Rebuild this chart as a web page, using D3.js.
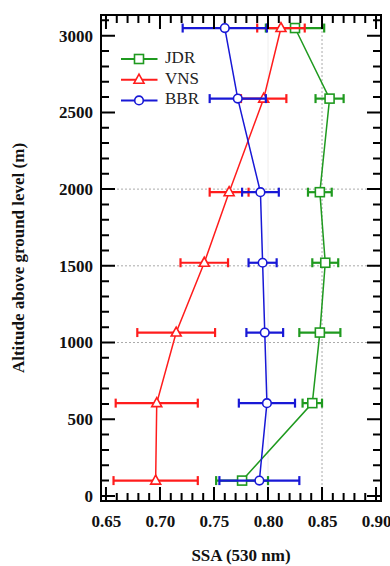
<!DOCTYPE html>
<html>
<head>
<meta charset="utf-8">
<script src="https://cdn.jsdelivr.net/npm/d3@7"></script>
<style>
  body { margin: 0; background: #fff; }
  svg { display: block; }
</style>
</head>
<body>
<svg id="chart" width="390" height="566"></svg>
<script>
// altitude of each level (m) -- same for the three instruments
var altitudes = [3050, 2590, 1980, 1520, 1065, 605, 100];

var jdrSSA = [0.825, 0.857, 0.848, 0.853, 0.848, 0.841, 0.776];
var jdrErr = [0.027, 0.013, 0.011, 0.012, 0.019, 0.009, 0.024];

var vnsSSA = [0.812, 0.796, 0.764, 0.741, 0.715, 0.697, 0.696];
var vnsErr = [0.022, 0.021, 0.018, 0.022, 0.036, 0.038, 0.039];

var bbrSSA = [0.760, 0.772, 0.793, 0.795, 0.797, 0.799, 0.792];
var bbrErr = [0.039, 0.026, 0.017, 0.013, 0.017, 0.026, 0.037];

var xTicks = [0.65, 0.70, 0.75, 0.80, 0.85, 0.90];
var yTicks = [0, 500, 1000, 1500, 2000, 2500, 3000];

var series = [
  {name: "JDR", ssa: jdrSSA, err: jdrErr, color: "#1f9a1f", symbol: "square"},
  {name: "VNS", ssa: vnsSSA, err: vnsErr, color: "#ff1c1c", symbol: "triangle"},
  {name: "BBR", ssa: bbrSSA, err: bbrErr, color: "#1818d6", symbol: "circle"}
];

var svg = d3.select("svg#chart"),
    margin = {top: 15, left: 101, bottom: 65, right: 9},
    width = 390, height = 566;

var x = d3.scaleLinear()
    .domain([0.6454, 0.9046])
    .range([margin.left, width - margin.right]);

var y = d3.scaleLinear()
    .domain([-33, 3135])
    .range([height - margin.bottom, margin.top]);

var fontTick = "'Liberation Serif', 'Times New Roman', serif";
// plot edges (don't call these top/left: window.top is read-only)
var pL = x.range()[0], pR = x.range()[1], pB = y.range()[0], pT = y.range()[1];

// gridlines (dotted)
var grid = svg.append("g").attr("class", "grid");
grid.selectAll("line.h")
  .data([1000, 1500, 2000])
  .enter().append("line")
    .attr("x1", pL).attr("x2", pR)
    .attr("y1", d => y(d)).attr("y2", d => y(d))
    .attr("stroke", "#aaa").attr("stroke-width", 1)
    .attr("stroke-dasharray", "2,2");
grid.append("line")
    .attr("x1", x(0.85)).attr("x2", x(0.85))
    .attr("y1", pB).attr("y2", pT)
    .attr("stroke", "#aaa").attr("stroke-width", 1)
    .attr("stroke-dasharray", "2,2");
grid.append("line")
    .attr("x1", x(0.80)).attr("x2", x(0.80))
    .attr("y1", pB).attr("y2", pT)
    .attr("stroke", "#eee").attr("stroke-width", 1);

// tick labels from the axis generators
function styleAxis(g) {
  g.select(".domain").remove();
  g.selectAll(".tick line").remove();
  g.selectAll(".tick text")
    .attr("font-family", fontTick)
    .attr("font-weight", "bold")
    .attr("font-size", 17)
    .attr("fill", "#111");
}

svg.append("g")
  .attr("transform", translate(0, pB))
  .call(d3.axisBottom(x).tickValues(xTicks).tickSize(0).tickPadding(14)
    .tickFormat(d3.format(".2f")))
  .call(styleAxis);

svg.append("g")
  .attr("transform", translate(pL, 0))
  .call(d3.axisLeft(y).tickValues(yTicks).tickSize(0).tickPadding(8)
    .tickFormat(d3.format("d")))
  .call(styleAxis);

// axis titles
svg.append("text")
  .attr("x", (pL + pR) / 2)
  .attr("y", 557)
  .attr("text-anchor", "middle")
  .attr("dominant-baseline", "middle")
  .attr("font-family", fontTick).attr("font-weight", "bold").attr("font-size", 17)
  .attr("fill", "#111")
  .text("SSA (530 nm)");

svg.append("text")
  .attr("transform", translate(20, (pB + pT) / 2) + " rotate(-90)")
  .attr("text-anchor", "middle")
  .attr("dominant-baseline", "middle")
  .attr("font-family", fontTick).attr("font-weight", "bold").attr("font-size", 17)
  .attr("fill", "#111")
  .text("Altitude above ground level (m)");

function marker(sel, symbol, color) {
  if (symbol == "square") {
    sel.append("rect").attr("x", -4.5).attr("y", -4.5).attr("width", 9).attr("height", 9);
  } else if (symbol == "triangle") {
    sel.append("path").attr("d", "M0,-5.5L5,3.5L-5,3.5Z");
  } else {
    sel.append("circle").attr("r", 4.3);
  }
  sel.selectAll("rect,path,circle")
    .attr("fill", "#fff").attr("stroke", color).attr("stroke-width", 1.6);
}

var line = d3.line().x(d => x(d.ssa)).y(d => y(d.alt));

series.forEach(function(s) {
  var pts = altitudes.map((a, i) => ({alt: a, ssa: s.ssa[i], err: s.err[i]}));
  var g = svg.append("g").attr("class", "series");

  g.append("path")
    .datum(pts)
    .attr("d", line)
    .attr("fill", "none").attr("stroke", s.color).attr("stroke-width", 1.5);

  var eb = g.selectAll("g.err").data(pts).enter().append("g").attr("class", "err");
  eb.append("line")
    .attr("x1", d => x(d.ssa - d.err)).attr("x2", d => x(d.ssa + d.err))
    .attr("y1", d => y(d.alt)).attr("y2", d => y(d.alt));
  eb.append("line")
    .attr("x1", d => x(d.ssa - d.err)).attr("x2", d => x(d.ssa - d.err))
    .attr("y1", d => y(d.alt) - 4.5).attr("y2", d => y(d.alt) + 4.5);
  eb.append("line")
    .attr("x1", d => x(d.ssa + d.err)).attr("x2", d => x(d.ssa + d.err))
    .attr("y1", d => y(d.alt) - 4.5).attr("y2", d => y(d.alt) + 4.5);
  eb.selectAll("line").attr("stroke", s.color).attr("stroke-width", 2.2);

  g.selectAll("g.mk").data(pts).enter().append("g")
    .attr("class", "mk")
    .attr("transform", d => translate(x(d.ssa), y(d.alt)))
    .each(function() { marker(d3.select(this), s.symbol, s.color); });
});

// legend
var legend = svg.append("g").attr("class", "legend");
series.forEach(function(s, i) {
  var ly = 59 + i * 20.7;
  legend.append("line")
    .attr("x1", 121).attr("x2", 157.5).attr("y1", ly).attr("y2", ly)
    .attr("stroke", s.color).attr("stroke-width", 2);
  marker(legend.append("g").attr("transform", translate(139, ly)), s.symbol, s.color);
  legend.append("text")
    .attr("x", 165).attr("y", ly)
    .attr("dominant-baseline", "middle")
    .attr("font-family", fontTick).attr("font-size", 17)
    .attr("fill", "#222")
    .text(s.name);
});

// frame and inward tick marks, one path, drawn last
var xAll = d3.range(65, 91).map(d => ({v: d / 100, len: d % 5 == 0 ? 14 : 8}));
var yAll = d3.range(0, 3200, 100).map(d => ({v: d, len: d % 500 == 0 ? 14 : 8}));

var p = d3.path();
p.rect(pL, pT, pR - pL, pB - pT);
xAll.forEach(function(t) {
  var px = x(t.v);
  p.moveTo(px, pB); p.lineTo(px, pB - t.len);
  p.moveTo(px, pT); p.lineTo(px, pT + t.len);
});
yAll.forEach(function(t) {
  var py = y(t.v);
  p.moveTo(pL, py); p.lineTo(pL + t.len, py);
  p.moveTo(pR, py); p.lineTo(pR - t.len, py);
});
svg.append("path")
  .attr("class", "frame")
  .attr("d", p.toString())
  .attr("fill", "none")
  .attr("stroke", "#000")
  .attr("stroke-width", 2);

/*
 * returns a translate string for the transform attribute
 */
function translate(x, y) {
  return 'translate(' + String(x) + ',' + String(y) + ')';
}
</script>
</body>
</html>
